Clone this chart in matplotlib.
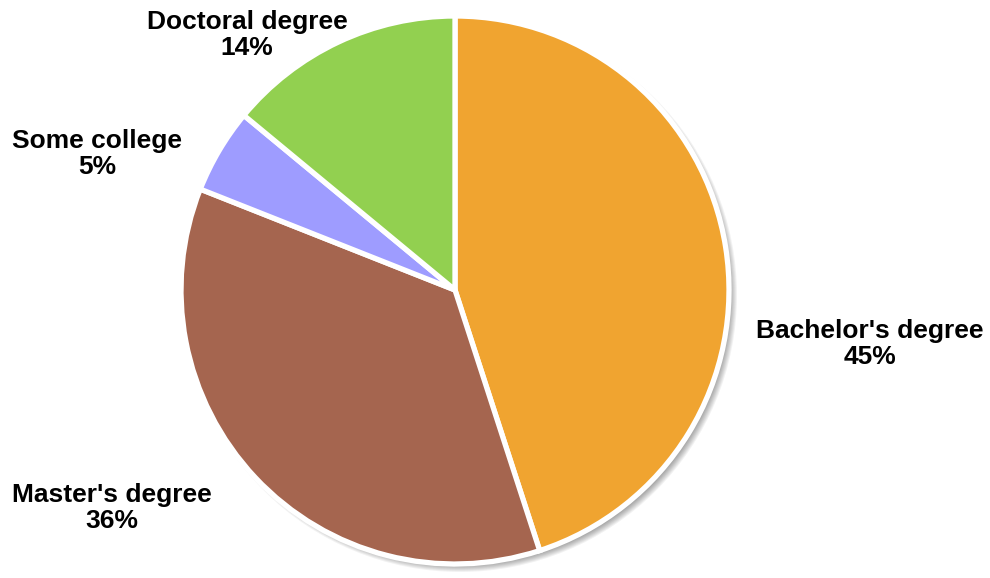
import matplotlib.pyplot as plt
from matplotlib.patches import Circle

categories = ["Bachelor's degree", "Master's degree", "Some college", "Doctoral degree"]
shares = [45, 36, 5, 14]
colors = ['#F0A430', '#A5654F', '#9E9CFF', '#92D050']

# label centres in pixel coords (x, y from top)
label_pos = [(870, 344), (112, 508), (97, 154), (247, 35)]

fig = plt.figure(figsize=(9.9, 5.78), dpi=100)
ax = fig.add_axes([0, 0, 1, 1])

cx, cy, r = 455, 578 - 290, 274

# soft shadow down-right
for i in range(8):
    ax.add_patch(Circle((cx + 5, cy - 5), r + 3 - i, color='black', alpha=0.05, lw=0, zorder=1))

ax.pie(shares, colors=colors, startangle=90, counterclock=False,
       center=(cx, cy), radius=r, frame=True,
       wedgeprops=dict(edgecolor='white', linewidth=3.8, zorder=2))
ax.set_xlim(0, 990)
ax.set_ylim(0, 578)
ax.set_aspect('equal')
ax.axis('off')

for name, val, (x, y) in zip(categories, shares, label_pos):
    ax.text(x, 578 - y, f'{name}\n{val}%', ha='center', va='center',
            fontsize=19, fontweight='bold', family='Liberation Sans',
            linespacing=1.13, zorder=3)

fig.savefig('out.png', dpi=100)
